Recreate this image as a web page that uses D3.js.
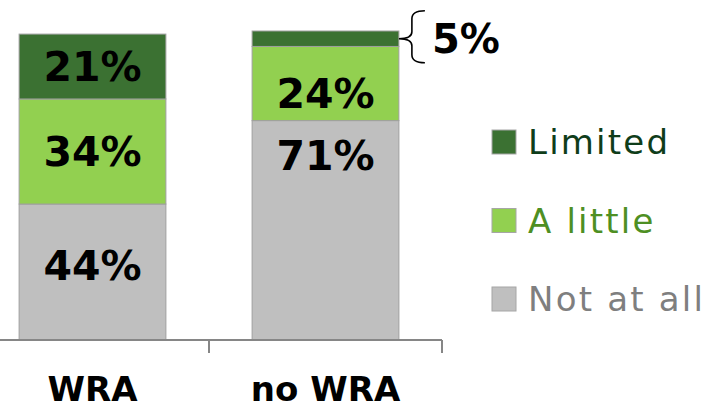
<!DOCTYPE html>
<html><head><meta charset="utf-8">
<script src="https://cdn.jsdelivr.net/npm/d3@7/dist/d3.min.js"></script>
<style>html,body{margin:0;padding:0;background:#fff;overflow:hidden}</style>
</head><body><svg id="c" width="719" height="411"></svg>
<script>
const categories = ["WRA", "no WRA"];
const seriesNames = ["Not at all", "A little", "Limited"];
const notAtAll = [44, 71];
const aLittle = [34, 24];
const limited = [21, 5];
// label anchor positions in percent units (manual placement as in the source)
const labelAnchorNotAtAll = [24.2, 59.7];
const labelAnchorALittle = [61, 79.7];
const labelAnchorLimited = [88.5, null];
const colors = {"Not at all": "#bfbfbf", "A little": "#92d050", "Limited": "#3b7132"};
const legendTextColors = {"Not at all": "#7f7f7f", "A little": "#4e8f23", "Limited": "#0f3d1a"};

const svg = d3.select("#c");
const font = "'DejaVu Sans', sans-serif";

const data = categories.map((c, i) => ({cat: c, "Not at all": notAtAll[i], "A little": aLittle[i], "Limited": limited[i]}));
const anchors = {"Not at all": labelAnchorNotAtAll, "A little": labelAnchorALittle, "Limited": labelAnchorLimited};
const stack = d3.stack().keys(seriesNames)(data);

const x = d3.scaleBand().domain(categories).range([-24, 442]).paddingInner(0.37).paddingOuter(0.185);
const y = d3.scaleLinear().domain([0, 100]).range([340, 31]);

// bars
stack.forEach(layer => {
  svg.append("g").selectAll("rect").data(layer).join("rect")
    .attr("x", d => x(d.data.cat))
    .attr("width", x.bandwidth())
    .attr("y", d => y(d[1]))
    .attr("height", d => y(d[0]) - y(d[1]))
    .attr("fill", colors[layer.key])
    .attr("stroke", "#a0a0a0").attr("stroke-width", 1);
});

// value labels
stack.forEach(layer => {
  layer.forEach((d, i) => {
    const a = anchors[layer.key][i];
    if (a == null) return;
    svg.append("text")
      .attr("x", x(d.data.cat) + x.bandwidth() / 2)
      .attr("y", y(a))
      .attr("dy", "0.36em")
      .attr("text-anchor", "middle")
      .attr("font-family", font).attr("font-weight", "bold").attr("font-size", 41)
      .attr("fill", "#000")
      .text(d[1] - d[0] + "%");
  });
});

// brace + small label for the 5% segment
const small = stack[2][1];
const bx = x(small.data.cat) + x.bandwidth();
const my = y((small[0] + small[1]) / 2);
const brace = d3.path();
brace.moveTo(bx + 26, my - 28);
brace.quadraticCurveTo(bx + 13, my - 28, bx + 13, my - 20);
brace.lineTo(bx + 13, my - 7);
brace.quadraticCurveTo(bx + 13, my, bx, my);
brace.quadraticCurveTo(bx + 13, my, bx + 13, my + 7);
brace.lineTo(bx + 13, my + 16);
brace.quadraticCurveTo(bx + 13, my + 24, bx + 26, my + 24);
svg.append("path").attr("d", brace.toString()).attr("fill", "none").attr("stroke", "#000").attr("stroke-width", 1.6);
svg.append("text").attr("x", bx + 33).attr("y", my).attr("dy", "0.36em")
  .attr("font-family", font).attr("font-weight", "bold").attr("font-size", 40)
  .text((small[1] - small[0]) + "%");

// axis
const axisG = svg.append("g").attr("transform", "translate(0,340)");
const [r0, r1] = x.range();
axisG.append("line").attr("x1", r0).attr("x2", r1).attr("stroke", "#868686").attr("stroke-width", 2);
const bounds = [r0].concat(categories.map(c => x(c) - x.step() * x.paddingInner() / 2 + x.step()));
bounds.forEach(b => axisG.append("line").attr("x1", b).attr("x2", b).attr("y1", 0).attr("y2", 13).attr("stroke", "#868686").attr("stroke-width", 2));
const ax = d3.axisBottom(x).tickSize(0).tickPadding(0);
const axText = svg.append("g").attr("transform", "translate(0,401)").call(ax);
axText.select(".domain").remove();
axText.selectAll("text").attr("font-family", font).attr("font-weight", "bold").attr("font-size", 34).attr("fill", "#000").attr("dy", 0);

// legend
const legendOrder = ["Limited", "A little", "Not at all"];
const lg = svg.append("g");
legendOrder.forEach((k, i) => {
  const yy = 142 + i * 78.5;
  lg.append("rect").attr("x", 492).attr("y", yy - 12).attr("width", 24).attr("height", 24)
    .attr("fill", colors[k]).attr("stroke", "#a6a6a6").attr("stroke-width", 1);
  lg.append("text").attr("x", 528).attr("y", yy).attr("dy", "0.36em")
    .attr("font-family", font).attr("font-size", 34).attr("letter-spacing", 2.2)
    .attr("fill", legendTextColors[k]).text(k);
});
</script></body></html>
